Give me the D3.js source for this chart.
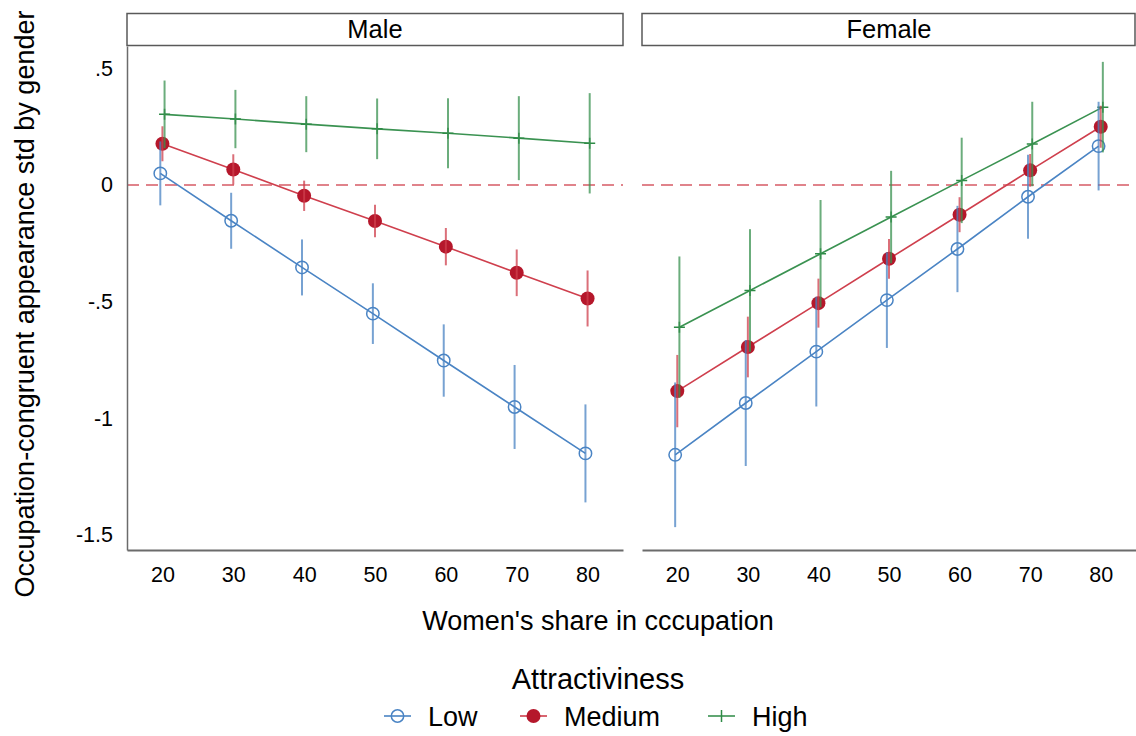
<!DOCTYPE html>
<html lang="en">
<head>
<meta charset="utf-8">
<title>Occupation-congruent appearance by women's share</title>
<script src="https://d3js.org/d3.v7.min.js"></script>
<style>
  body { margin: 0; background: #fff; }
  text { font-family: "Liberation Sans", Arial, Helvetica, sans-serif; fill: #000; }
</style>
</head>
<body>
<div id="chart"></div>
<script>
// women's share in occupation (x categories)
var shares = [20, 30, 40, 50, 60, 70, 80];
var panels = ["Male", "Female"];
var levels = ["Low", "Medium", "High"];
var yTicks = [0.5, 0, -0.5, -1, -1.5];
var yTickLabels = [".5", "0", "-.5", "-1", "-1.5"];

// point estimates and CI half widths
var maleLow = [0.05, -0.153, -0.353, -0.551, -0.752, -0.951, -1.15];
var maleLowCI = [0.137, 0.12, 0.12, 0.13, 0.155, 0.18, 0.21];
var maleMedium = [0.177, 0.067, -0.046, -0.154, -0.264, -0.376, -0.486];
var maleMediumCI = [0.075, 0.065, 0.065, 0.07, 0.08, 0.1, 0.12];
var maleHigh = [0.303, 0.283, 0.261, 0.241, 0.222, 0.201, 0.179];
var maleHighCI = [0.145, 0.125, 0.12, 0.13, 0.15, 0.18, 0.215];

var femaleLow = [-1.156, -0.934, -0.714, -0.493, -0.274, -0.05, 0.167];
var femaleLowCI = [0.31, 0.27, 0.235, 0.205, 0.185, 0.18, 0.19];
var femaleMedium = [-0.883, -0.694, -0.506, -0.316, -0.127, 0.063, 0.25];
var femaleMediumCI = [0.155, 0.13, 0.105, 0.085, 0.075, 0.07, 0.09];
var femaleHigh = [-0.609, -0.452, -0.294, -0.137, 0.02, 0.176, 0.334];
var femaleHighCI = [0.303, 0.263, 0.23, 0.198, 0.183, 0.181, 0.194];

var w = 1136, h = 736;
var plotTop = 46, plotBottom = 550;
var panelX = [[127, 623], [642, 1136]];

var colors = { Low: "#4a84c4", Medium: "#b5172b", High: "#2e8b46" };
var lineColors = { Low: "#4a84c4", Medium: "#cf3f4d", High: "#3a9251" };
var xShift = { Low: -0.3, Medium: 0, High: 0.3 };

var series = {
  Male: { Low: [maleLow, maleLowCI], Medium: [maleMedium, maleMediumCI], High: [maleHigh, maleHighCI] },
  Female: { Low: [femaleLow, femaleLowCI], Medium: [femaleMedium, femaleMediumCI], High: [femaleHigh, femaleHighCI] }
};

var svg = d3.select("#chart").append("svg")
  .attr("width", w).attr("height", h);

var yScale = d3.scaleLinear().domain([-1.564, 0.596]).range([plotBottom, plotTop]);

panels.forEach(function(p, pi) {
  var x0 = panelX[pi][0], x1 = panelX[pi][1];
  var xScale = d3.scaleLinear().domain([15, 85]).range([x0, x1]);
  var g = svg.append("g");

  // strip
  g.append("rect")
    .attr("x", x0).attr("y", 13.5)
    .attr("width", x1 - x0 - (pi == 1 ? 1 : 0)).attr("height", 32)
    .attr("fill", "#fff").attr("stroke", "#595959").attr("stroke-width", 1.5);
  g.append("text")
    .attr("x", (x0 + x1) / 2).attr("y", 38)
    .attr("text-anchor", "middle")
    .style("font-size", "25.5px")
    .text(p);

  // zero reference line
  g.append("line")
    .attr("x1", x0).attr("x2", x1)
    .attr("y1", yScale(0)).attr("y2", yScale(0))
    .attr("stroke", "#e0838b").attr("stroke-width", 2)
    .attr("stroke-dasharray", "12,7");

  // x axis
  var xAxis = d3.axisBottom(xScale).tickValues(shares).tickSize(0).tickPadding(17);
  var ax = g.append("g")
    .attr("transform", "translate(0," + plotBottom + ")")
    .call(xAxis);
  ax.select(".domain").attr("stroke", "#6b6b6b").attr("stroke-width", 1.8);
  ax.selectAll("text").style("font-size", "21.5px").style("font-family", "Liberation Sans, Arial, sans-serif");

  if (pi == 0) {
    var yAxis = d3.axisLeft(yScale).tickValues(yTicks).tickSize(0).tickPadding(14)
      .tickFormat(function(d, i) { return yTickLabels[i]; });
    var ay = g.append("g")
      .attr("transform", "translate(" + x0 + ",0)")
      .call(yAxis);
    ay.select(".domain").attr("stroke", "#6b6b6b").attr("stroke-width", 1.5);
    ay.selectAll("text").style("font-size", "21.5px").style("font-family", "Liberation Sans, Arial, sans-serif");
  }

  var line = d3.line()
    .x(function(d) { return xScale(d.x); })
    .y(function(d) { return yScale(d.y); });

  levels.forEach(function(lv) {
    var vals = series[p][lv][0];
    var pts = shares.map(function(s, i) { return { x: s + xShift[lv], y: vals[i] }; });
    g.append("path")
      .datum(pts)
      .attr("d", line)
      .attr("fill", "none")
      .attr("stroke", lineColors[lv])
      .attr("stroke-width", 1.6);

    if (lv == "Low") {
      g.selectAll(".m-low").data(pts).enter().append("circle")
        .attr("cx", function(d) { return xScale(d.x); })
        .attr("cy", function(d) { return yScale(d.y); })
        .attr("r", 6.2)
        .attr("fill", "none").attr("stroke", colors.Low).attr("stroke-width", 1.5);
    } else if (lv == "Medium") {
      g.selectAll(".m-med").data(pts).enter().append("circle")
        .attr("cx", function(d) { return xScale(d.x); })
        .attr("cy", function(d) { return yScale(d.y); })
        .attr("r", 7)
        .attr("fill", colors.Medium);
    } else {
      g.selectAll(".m-high").data(pts).enter().append("path")
        .attr("d", function(d) {
          var cx = xScale(d.x), cy = yScale(d.y);
          return "M" + (cx - 5.5) + "," + cy + "H" + (cx + 5.5) + "M" + cx + "," + (cy - 5.5) + "V" + (cy + 5.5);
        })
        .attr("stroke", colors.High).attr("stroke-width", 1.5).attr("fill", "none");
    }
  });

  // confidence intervals drawn on top
  levels.forEach(function(lv) {
    var vals = series[p][lv][0], ci = series[p][lv][1];
    g.selectAll(".ci-" + lv).data(shares).enter().append("line")
      .attr("x1", function(s) { return xScale(s + xShift[lv]); })
      .attr("x2", function(s) { return xScale(s + xShift[lv]); })
      .attr("y1", function(s, i) { return yScale(vals[i] + ci[i]); })
      .attr("y2", function(s, i) { return yScale(vals[i] - ci[i]); })
      .attr("stroke", lineColors[lv])
      .attr("stroke-width", 2)
      .attr("opacity", 0.75);
  });
});

// axis titles
svg.append("text")
  .attr("transform", "translate(34," + 304 + ") rotate(-90)")
  .attr("text-anchor", "middle")
  .style("font-size", "27px")
  .text("Occupation-congruent appearance std by gender");

svg.append("text")
  .attr("x", 598).attr("y", 630)
  .attr("text-anchor", "middle")
  .style("font-size", "27px")
  .text("Women's share in cccupation");

// legend
svg.append("text")
  .attr("x", 598).attr("y", 689)
  .attr("text-anchor", "middle")
  .style("font-size", "29px")
  .text("Attractiviness");

var legendX = [384, 520, 708];
var leg = svg.selectAll(".leg").data(levels).enter().append("g")
  .attr("transform", function(d, i) { return "translate(" + legendX[i] + ",716)"; });
leg.append("line")
  .attr("x1", 0).attr("x2", 27).attr("y1", 0).attr("y2", 0)
  .attr("stroke", function(d) { return lineColors[d]; }).attr("stroke-width", 1.6);
leg.each(function(d) {
  var s = d3.select(this);
  if (d == "Low") {
    s.append("circle").attr("cx", 13.5).attr("cy", 0).attr("r", 6.2)
      .attr("fill", "none").attr("stroke", colors.Low).attr("stroke-width", 1.5);
  } else if (d == "Medium") {
    s.append("circle").attr("cx", 13.5).attr("cy", 0).attr("r", 7).attr("fill", colors.Medium);
  } else {
    s.append("line").attr("x1", 13.5).attr("x2", 13.5).attr("y1", -6).attr("y2", 6)
      .attr("stroke", colors.High).attr("stroke-width", 1.5);
  }
});
leg.append("text")
  .attr("x", 44).attr("y", 9.5)
  .style("font-size", "27px")
  .text(function(d) { return d; });
</script>
</body>
</html>
